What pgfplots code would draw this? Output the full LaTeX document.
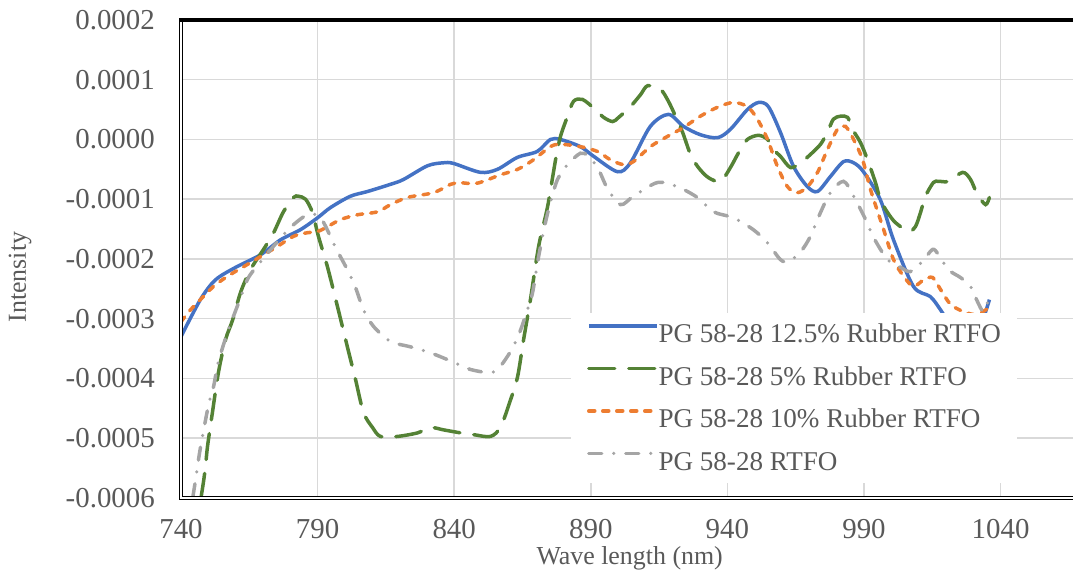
\documentclass[border=0pt]{standalone}
\usepackage{fontspec}
\setmainfont{Liberation Serif}
\usepackage{pgfplots}
\pgfplotsset{compat=1.18}

\definecolor{txt}{HTML}{595959}
\definecolor{gridc}{HTML}{D9D9D9}
\definecolor{sblue}{HTML}{4472C4}
\definecolor{sgreen}{HTML}{548235}
\definecolor{sorange}{HTML}{ED7D31}
\definecolor{sgray}{HTML}{A5A5A5}

\begin{document}
\begin{tikzpicture}
\begin{axis}[
  scale only axis, width=892bp, height=478bp,
  xmin=740, xmax=1066.5, ymin=-0.0006, ymax=0.0002,
  xtick={740,790,840,890,940,990,1040},
  xticklabels={740,790,840,890,940,990,1040},
  ytick={-0.0006,-0.0005,-0.0004,-0.0003,-0.0002,-0.0001,0,0.0001,0.0002},
  yticklabels={-0.0006,-0.0005,-0.0004,-0.0003,-0.0002,-0.0001,0.0000,0.0001,0.0002},
  scaled y ticks=false, scaled x ticks=false,
  grid=major, major grid style={gridc, line width=1.5bp},
  axis line style={draw=none},
  tick style={draw=none}, major tick length=0pt,
  ticklabel style={font=\fontsize{29}{31}\selectfont, text=txt, inner sep=0pt},
  yticklabel style={anchor=east, xshift=-26bp},
  xticklabel style={anchor=north, yshift=-21bp},
  xlabel={Wave length (nm)}, ylabel={Intensity},
  label style={font=\fontsize{26}{28}\selectfont, text=txt, inner sep=0pt},
  xlabel style={at={(rel axis cs:0.503,-0.1265)}, anchor=center},
  ylabel style={at={(rel axis cs:-0.1805,0.462)}, anchor=center},
  clip mode=individual,
  legend cell align=left,
  legend image code/.code={\draw[#1] (0bp,8.5bp) -- (68bp,8.5bp);},
  legend style={at={(rel axis cs:0.437,0.387)}, anchor=north west,
    draw=none, fill=white, inner xsep=16bp, inner ysep=0pt,
    font=\fontsize{27.2}{29}\selectfont, text=txt,
    row sep=0pt,
    nodes={inner sep=0pt, text height=29.5bp, text depth=13bp},
    /tikz/every even column/.append style={column sep=6bp}},
  every axis plot/.append style={line width=3.5bp, smooth, tension=0.5},
]

% PG 58-28 12.5% Rubber RTFO
\addplot[sblue, solid] coordinates {
(740,-0.000330) (747.1,-0.000268) (752.6,-0.000235) (760.0,-0.000214)
(769.1,-0.000193) (776.4,-0.000168) (783.7,-0.000151) (790.0,-0.000131)
(794.7,-0.000114) (802.0,-0.000095) (808.3,-0.000087) (816.7,-0.000075)
(821.4,-0.000067) (830.2,-0.000044) (836.0,-0.000039) (839.7,-0.000040)
(849.6,-0.000055) (855.8,-0.000050) (863.1,-0.000030) (870.4,-0.000020)
(875.2,0.000000) (878.9,0.000000) (886.2,-0.000012) (891.0,-0.000028)
(899.8,-0.000054) (904.5,-0.000039) (911.8,0.000022) (918.4,0.000042)
(923.9,0.000022) (930.1,0.000008) (936.4,0.000003) (941.1,0.000017)
(947.3,0.000050) (951.4,0.000062) (955.0,0.000055) (959.4,0.000012)
(964.2,-0.000045) (969.3,-0.000079) (973.0,-0.000087) (977.7,-0.000062)
(982.5,-0.000037) (986.2,-0.000039) (989.8,-0.000054) (996.0,-0.000101)
(1000.8,-0.000168) (1008.1,-0.000246) (1014.3,-0.000263) (1018.0,-0.000285)
(1021.7,-0.000310) (1027.2,-0.000330) (1032.6,-0.000310) (1035.9,-0.000268)
};
\addlegendentry{PG 58-28 12.5\% Rubber RTFO}

% PG 58-28 5% Rubber RTFO
\addplot[sgreen, line cap=round, dash pattern=on 26bp off 14bp] coordinates {
(740,-0.000800) (747.9,-0.000583) (749.7,-0.000514) (751.5,-0.000457)
(753.7,-0.000390) (756.3,-0.000335) (758.9,-0.000302) (761.8,-0.000256)
(765.4,-0.000218) (770.2,-0.000184) (773.9,-0.000156) (777.5,-0.000121)
(781.2,-0.000097) (783.0,-0.000095) (785.6,-0.000100) (788.1,-0.000122)
(790.3,-0.000162) (793.6,-0.000213) (797.3,-0.000280) (800.9,-0.000347)
(803.9,-0.000402) (806.8,-0.000457) (810.1,-0.000482) (813.0,-0.000497)
(819.2,-0.000497) (826.6,-0.000491) (831.3,-0.000482) (836.1,-0.000486)
(842.3,-0.000491) (847.1,-0.000494) (853.3,-0.000497) (857.0,-0.000481)
(860.6,-0.000436) (863.2,-0.000397) (865.4,-0.000335) (867.9,-0.000268)
(870.9,-0.000179) (874.2,-0.000112) (877.1,-0.000034) (878.9,0.000005)
(881.5,0.000039) (883.7,0.000064) (887.0,0.000067) (891.7,0.000050)
(894.7,0.000037) (898.0,0.000030) (900.2,0.000037) (904.5,0.000055)
(908.2,0.000075) (910.8,0.000090) (915.5,0.000084) (918.4,0.000064)
(921.0,0.000039) (923.6,0.000012) (926.5,-0.000025) (929.4,-0.000047)
(933.1,-0.000064) (937.5,-0.000070) (941.1,-0.000047) (944.1,-0.000022)
(947.3,0.000000) (951.4,0.000007) (954.7,0.000000) (956.9,-0.000017)
(959.4,-0.000028) (963.1,-0.000047) (966.8,-0.000039) (970.4,-0.000025)
(974.1,-0.000008) (976.7,0.000013) (978.8,0.000034) (981.4,0.000039)
(984.0,0.000037) (985.8,0.000017) (988.7,-0.000005) (991.3,-0.000034)
(994.2,-0.000072) (996.0,-0.000101) (998.6,-0.000122) (1001.5,-0.000139)
(1006.3,-0.000154) (1008.8,-0.000146) (1010.7,-0.000122) (1012.5,-0.000095)
(1015.4,-0.000072) (1017.3,-0.000070) (1020.9,-0.000070) (1026.1,-0.000055)
(1029.0,-0.000067) (1031.5,-0.000092) (1034.5,-0.000109) (1035.9,-0.000097)
};
\addlegendentry{PG 58-28 5\% Rubber RTFO}

% PG 58-28 10% Rubber RTFO
\addplot[sorange, line cap=round, dash pattern=on 6bp off 8bp] coordinates {
(740,-0.000305) (743.5,-0.000285) (747.1,-0.000268) (751.9,-0.000246)
(757.0,-0.000229) (762.9,-0.000213) (769.1,-0.000196) (775.3,-0.000179)
(781.2,-0.000162) (786.3,-0.000156) (790.0,-0.000154) (793.6,-0.000146)
(798.4,-0.000134) (804.6,-0.000126) (811.9,-0.000121) (816.7,-0.000109)
(822.9,-0.000097) (832.4,-0.000089) (838.7,-0.000075) (841.2,-0.000072)
(847.1,-0.000074) (850.7,-0.000070) (857.0,-0.000059) (863.2,-0.000050)
(869.0,-0.000034) (875.2,-0.000012) (878.9,-0.000008) (886.2,-0.000012)
(892.4,-0.000020) (897.2,-0.000034) (901.9,-0.000042) (905.6,-0.000037)
(911.8,-0.000012) (918.0,0.000005) (923.9,0.000020) (930.1,0.000039)
(936.4,0.000054) (942.2,0.000062) (947.3,0.000055) (951.0,0.000034)
(954.7,0.000000) (958.3,-0.000045) (962.0,-0.000079) (965.6,-0.000089)
(969.3,-0.000079) (973.0,-0.000055) (976.6,-0.000017) (980.3,0.000017)
(983.2,0.000022) (986.2,0.000000) (989.5,-0.000034) (992.4,-0.000084)
(997.2,-0.000151) (1000.8,-0.000201) (1004.5,-0.000229) (1008.1,-0.000246)
(1011.8,-0.000235) (1015.1,-0.000231) (1018.0,-0.000251) (1021.7,-0.000276)
(1026.4,-0.000288) (1031.2,-0.000293) (1035.9,-0.000281)
};
\addlegendentry{PG 58-28 10\% Rubber RTFO}

% PG 58-28 RTFO
\addplot[sgray, line cap=round, dash pattern=on 13bp off 12bp on 0bp off 12bp] coordinates {
(740,-0.000720) (744.6,-0.000591) (747.1,-0.000516) (750.1,-0.000444)
(751.9,-0.000414) (753.7,-0.000372) (757.0,-0.000323) (759.2,-0.000296)
(761.8,-0.000265) (764.7,-0.000231) (769.8,-0.000201) (775.3,-0.000171)
(780.1,-0.000147) (786.3,-0.000126) (791.1,-0.000131) (796.6,-0.000181)
(800.9,-0.000218) (803.9,-0.000248) (806.8,-0.000285) (810.5,-0.000313)
(816.7,-0.000338) (824.0,-0.000347) (831.3,-0.000357) (839.4,-0.000372)
(846.0,-0.000385) (854.4,-0.000389) (859.5,-0.000363) (863.6,-0.000327)
(866.8,-0.000285) (868.7,-0.000256) (870.9,-0.000196) (873.4,-0.000139)
(875.2,-0.000106) (877.8,-0.000067) (881.5,-0.000042) (886.2,-0.000023)
(889.2,-0.000028) (892.8,-0.000050) (896.1,-0.000082) (900.9,-0.000109)
(905.6,-0.000095) (914.4,-0.000072) (921.7,-0.000079) (929.0,-0.000097)
(934.9,-0.000121) (942.2,-0.000131) (949.5,-0.000151) (954.7,-0.000173)
(959.4,-0.000201) (962.4,-0.000204) (966.8,-0.000188) (970.4,-0.000162)
(974.1,-0.000122) (977.7,-0.000089) (982.5,-0.000070) (986.2,-0.000095)
(990.6,-0.000134) (993.5,-0.000164) (998.6,-0.000201) (1003.4,-0.000214)
(1007.0,-0.000221) (1011.4,-0.000204) (1015.1,-0.000184) (1017.3,-0.000193)
(1020.9,-0.000218) (1025.3,-0.000231) (1029.0,-0.000246) (1031.5,-0.000271)
(1033.8,-0.000288) (1035.9,-0.000263)
};
\addlegendentry{PG 58-28 RTFO}

\coordinate (SW) at (rel axis cs:0,0);
\coordinate (NW) at (rel axis cs:0,1);
\coordinate (SE) at (rel axis cs:1,0);
\coordinate (NE) at (rel axis cs:1,1);
\end{axis}

% plot-area frame: double rule at left and bottom, heavy rule on top
\draw[black, line width=1bp, double=white, double distance=1.2bp, line cap=rect]
  ([yshift=-2bp]NW) -- (SW) -- (SE);
\draw[black, line width=4bp] ([xshift=-1.6bp]NW) -- (NE);

\pgfresetboundingbox
\path ([shift={(-181bp,-73bp)}]SW) rectangle ([shift={(0bp,20bp)}]NE);
\end{tikzpicture}
\end{document}
